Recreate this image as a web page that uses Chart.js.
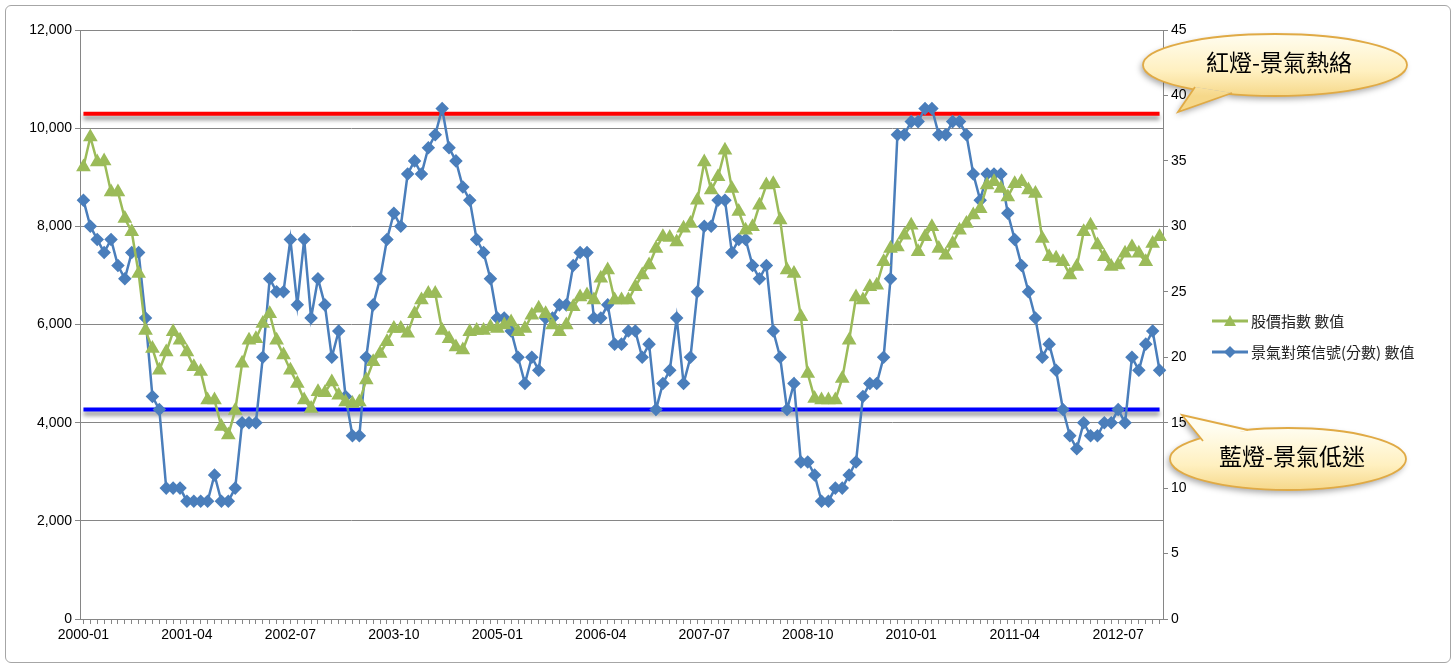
<!DOCTYPE html>
<html lang="zh-Hant">
<head>
<meta charset="UTF-8" />
<title>景氣對策信號與股價指數</title>
<script src="https://cdn.jsdelivr.net/npm/chart.js"></script>
<style>
  body { margin: 0; background: #fff; font-family: "Noto Sans CJK TC", "Liberation Sans", sans-serif; }
  #wrap { position: relative; width: 1455px; height: 669px; }
  #frame { position: absolute; left: 5px; top: 5px; width: 1444px; height: 656px; border: 1px solid #a6a6a6; border-radius: 6px; }
  #legend { position: absolute; left: 1212px; top: 305px; font-size: 15px; color: #222; }
  .item { display: flex; align-items: center; height: 31px; }
  .item svg { margin-right: 3px; }
</style>
</head>
<body>
<div id="wrap">
  <div id="frame"></div>
  <canvas id="myChart" width="1455" height="669"></canvas>
  <div id="legend">
    <div class="item"><svg width="36" height="14"><line x1="0" y1="7" x2="36" y2="7" stroke="#9BBB59" stroke-width="3"/><polygon points="18,1 24,12 12,12" fill="#9BBB59"/></svg>股價指數 數值</div>
    <div class="item"><svg width="36" height="14"><line x1="0" y1="7" x2="36" y2="7" stroke="#4A7EBB" stroke-width="3"/><polygon points="18,1 24,7 18,13 12,7" fill="#4A7EBB"/></svg>景氣對策信號(分數) 數值</div>
  </div>
</div>

<script>
// months 2000-01 .. 2013-01
const months = [];
for (let y = 2000; y <= 2013; y++) {
    for (let m = 1; m <= 12; m++) {
        if (y === 2013 && m > 1) break;
        months.push(y + '-' + String(m).padStart(2, '0'));
    }
}

// 股價指數 (left axis)
const stockIndex = [
    9210, 9820, 9310, 9330, 8700, 8700, 8160, 7890, 7040, 5880,
    5510, 5070, 5440, 5850, 5680, 5440, 5140, 5040, 4460, 4460,
    3920, 3750, 4250, 5210, 5680, 5710, 6020, 6220, 5680, 5380,
    5070, 4800, 4460, 4290, 4630, 4610, 4830, 4560, 4420, 4390,
    4420, 4870, 5240, 5410, 5650, 5920, 5920, 5820, 6220, 6500,
    6630, 6630, 5880, 5710, 5540, 5480, 5850, 5880, 5880, 5950,
    5920, 5990, 6050, 5850, 5920, 6190, 6330, 6220, 5990, 5850,
    5990, 6360, 6560, 6600, 6500, 6940, 7110, 6500, 6500, 6500,
    6770, 7010, 7210, 7550, 7790, 7770, 7680, 7960, 8060, 8530,
    9310, 8740, 9010, 9550, 8770, 8300, 7920, 7990, 8430, 8840,
    8870, 8130, 7110, 7040, 6160, 5000, 4490, 4460, 4460, 4460,
    4900, 5680, 6560, 6500, 6770, 6800, 7280, 7550, 7580, 7820,
    8020, 7480, 7790, 7990, 7550, 7410, 7650, 7920, 8060, 8230,
    8360, 8840, 8910, 8770, 8600, 8870, 8910, 8740, 8670, 7750,
    7380, 7350, 7280, 7010, 7180, 7890, 8020, 7620, 7380, 7180,
    7210, 7450, 7580, 7450, 7280, 7650, 7790
];

// 景氣對策信號 分數 (right axis)
const signalScore = [
    32, 30, 29, 28, 29, 27, 26, 28, 28, 23,
    17, 16, 10, 10, 10, 9, 9, 9, 9, 11,
    9, 9, 10, 15, 15, 15, 20, 26, 25, 25,
    29, 24, 29, 23, 26, 24, 20, 22, 17, 14,
    14, 20, 24, 26, 29, 31, 30, 34, 35, 34,
    36, 37, 39, 36, 35, 33, 32, 29, 28, 26,
    23, 23, 22, 20, 18, 20, 19, 23, 23, 24,
    24, 27, 28, 28, 23, 23, 24, 21, 21, 22,
    22, 20, 21, 16, 18, 19, 23, 18, 20, 25,
    30, 30, 32, 32, 28, 29, 29, 27, 26, 27,
    22, 20, 16, 18, 12, 12, 11, 9, 9, 10,
    10, 11, 12, 17, 18, 18, 20, 26, 37, 37,
    38, 38, 39, 39, 37, 37, 38, 38, 37, 34,
    32, 34, 34, 34, 31, 29, 27, 25, 23, 20,
    21, 19, 16, 14, 13, 15, 14, 14, 15, 15,
    16, 15, 20, 19, 21, 22, 19
];

// signal thresholds (right axis)
const redLight = 38.6;
const blueLight = 16;

const redLine = months.map(() => redLight);
const blueLine = months.map(() => blueLight);

const font = { family: '"Liberation Sans", sans-serif', size: 14 };

const shadowPlugin = {
    id: 'shadow',
    beforeDatasetDraw(chart, args) {
        if (args.index >= 2) {
            const ctx = chart.ctx;
            ctx.save();
            ctx.shadowColor = 'rgba(0,0,0,0.45)';
            ctx.shadowBlur = 4;
            ctx.shadowOffsetY = 4;
        }
    },
    afterDatasetDraw(chart, args) {
        if (args.index >= 2) chart.ctx.restore();
    }
};

function bubble(ctx, cx, cy, rx, ry, tail, text) {
    const g = ctx.createLinearGradient(0, cy - ry, 0, cy + ry);
    g.addColorStop(0, '#fffdf0');
    g.addColorStop(0.6, '#fff0c0');
    g.addColorStop(1, '#f6d88a');
    const shape = () => {
        ctx.beginPath();
        ctx.ellipse(cx, cy, rx, ry, 0, 0, Math.PI * 2);
        ctx.moveTo(tail[0][0], tail[0][1]);
        ctx.lineTo(tail[1][0], tail[1][1]);
        ctx.lineTo(tail[2][0], tail[2][1]);
        ctx.closePath();
    };
    ctx.save();
    ctx.shadowColor = 'rgba(0,0,0,0.35)';
    ctx.shadowBlur = 6;
    ctx.shadowOffsetX = -2;
    ctx.shadowOffsetY = 3;
    ctx.fillStyle = g;
    shape();
    ctx.fill('nonzero');
    ctx.restore();
    ctx.save();
    ctx.strokeStyle = '#e0aa45';
    ctx.lineWidth = 1.8;
    ctx.beginPath();
    ctx.ellipse(cx, cy, rx, ry, 0, 0, Math.PI * 2);
    ctx.stroke();
    // cover the ellipse edge under the tail
    ctx.fillStyle = g;
    ctx.beginPath();
    ctx.moveTo(tail[0][0], tail[0][1]);
    ctx.lineTo(tail[1][0], tail[1][1]);
    ctx.lineTo(tail[2][0], tail[2][1]);
    ctx.closePath();
    ctx.fill();
    ctx.beginPath();
    ctx.moveTo(tail[0][0], tail[0][1]);
    ctx.lineTo(tail[1][0], tail[1][1]);
    ctx.lineTo(tail[2][0], tail[2][1]);
    ctx.stroke();
    ctx.fillStyle = '#000';
    ctx.font = '23px "Noto Sans CJK TC", sans-serif';
    ctx.textAlign = 'center';
    ctx.textBaseline = 'middle';
    ctx.fillText(text, cx + 4, cy - 3);
    ctx.restore();
}

const calloutPlugin = {
    id: 'callouts',
    afterDraw(chart) {
        const ctx = chart.ctx;
        bubble(ctx, 1275, 65, 132, 31, [[1195, 87], [1178, 112], [1232, 93]], '紅燈-景氣熱絡');
        bubble(ctx, 1288, 459, 118, 31, [[1203, 441], [1182, 415], [1248, 430]], '藍燈-景氣低迷');
    }
};

document.addEventListener("DOMContentLoaded", function() {
    const ctx = document.getElementById('myChart').getContext('2d');
    new Chart(ctx, {
        type: 'line',
        data: {
            labels: months,
            datasets: [{
                label: '股價指數 數值',
                data: stockIndex,
                yAxisID: 'y',
                borderColor: '#9BBB59',
                backgroundColor: '#9BBB59',
                borderWidth: 2.5,
                pointStyle: 'triangle',
                pointRadius: 6,
                tension: 0
            }, {
                label: '景氣對策信號(分數) 數值',
                data: signalScore,
                yAxisID: 'y2',
                borderColor: '#4A7EBB',
                backgroundColor: '#4A7EBB',
                borderWidth: 2.5,
                pointStyle: 'rectRot',
                pointRadius: 5,
                tension: 0
            }, {
                label: 'red',
                data: redLine,
                yAxisID: 'y2',
                borderColor: '#ff0000',
                borderWidth: 4,
                pointRadius: 0
            }, {
                label: 'blue',
                data: blueLine,
                yAxisID: 'y2',
                borderColor: '#0000ff',
                borderWidth: 4,
                pointRadius: 0
            }]
        },
        options: {
            responsive: false,
            animation: false,
            layout: { padding: { left: 0, top: 30, right: 252, bottom: 10 } },
            plugins: { legend: { display: false }, tooltip: { enabled: false } },
            scales: {
                x: {
                    offset: true,
                    grid: { drawOnChartArea: false, tickLength: 5, color: '#868686' },
                    border: { color: '#868686' },
                    ticks: {
                        autoSkip: false,
                        maxRotation: 0,
                        color: '#000',
                        font: font,
                        callback: function(v, i) { return i % 15 === 0 ? months[i] : ''; }
                    },
                    afterFit(s) { s.height = 40; }
                },
                y: {
                    position: 'left',
                    min: 0, max: 12000,
                    grid: { color: '#868686', tickLength: 5 },
                    border: { color: '#868686' },
                    ticks: { stepSize: 2000, color: '#000', font: font,
                        callback: v => v.toLocaleString('en-US') },
                    afterFit(s) { s.width = 80; }
                },
                y2: {
                    position: 'right',
                    min: 0, max: 45,
                    grid: { drawOnChartArea: false, tickLength: 5, color: '#868686' },
                    border: { color: '#868686' },
                    ticks: { stepSize: 5, color: '#000', font: font },
                    afterFit(s) { s.width = 40; }
                }
            }
        },
        plugins: [shadowPlugin, calloutPlugin]
    });
});
</script>
</body>
</html>
